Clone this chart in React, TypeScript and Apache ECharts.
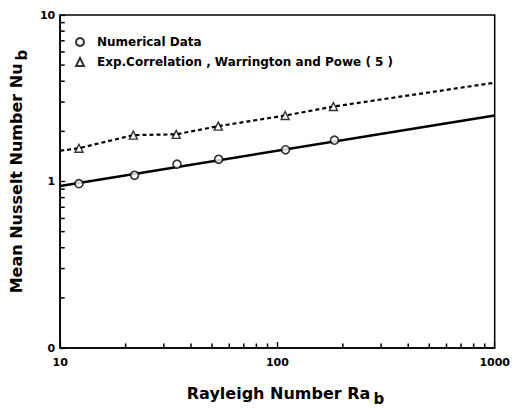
import React, { useEffect, useRef } from "react";
import * as echarts from "echarts";

// Numerical data (circles)
const raNum = [12.2, 22, 34.5, 53.6, 109, 183];
const nuNum = [0.97, 1.09, 1.27, 1.36, 1.55, 1.77];
// Experimental correlation, Warrington and Powe (triangles)
const raExp = [12.2, 21.7, 34.2, 53.4, 108.5, 181];
const nuExp = [1.585, 1.9, 1.92, 2.15, 2.49, 2.82];
// Line end points
const numLineStart = [10, 0.94];
const numLineEnd = [1000, 2.49];
const expLineStart = [10, 1.53];
const expLineEnd = [1000, 3.92];
// Minor tick values
const xMinorTicks = [20, 30, 40, 50, 60, 70, 80, 90, 200, 300, 400, 500, 600, 700, 800, 900];
const yMinorTicks = [0.2, 0.3, 0.4, 0.5, 0.6, 0.7, 0.8, 0.9, 2, 3, 4, 5, 6, 7, 8, 9];
const yTickLabels: Record<string, string> = { "0.1": "0", "1": "1", "10": "10" };
const xTickLabels: Record<string, string> = { "10": "10", "100": "100", "1000": "1000" };
const X_MIN = 10;
const Y_MIN = 0.1;

const FONT = "DejaVu Sans";

export default function App() {
  const ref = useRef<HTMLDivElement>(null);
  useEffect(() => {
    const chart = echarts.init(ref.current!, null, { renderer: "svg" });
    const numPts = raNum.map((r, i) => [r, nuNum[i]]);
    const expPts = raExp.map((r, i) => [r, nuExp[i]]);
    chart.setOption({
      animation: false,
      backgroundColor: "#fff",
      grid: {
        left: 52,
        right: 11,
        top: 15,
        bottom: 57,
        containLabel: false,
        show: true,
        borderColor: "#000",
        borderWidth: 1.5,
      },
      legend: {
        data: ["Numerical Data", "Exp.Correlation , Warrington and Powe ( 5 )"],
        orient: "vertical",
        left: 75,
        top: 35,
        padding: 0,
        itemWidth: 8,
        itemHeight: 8,
        itemGap: 6,
        textStyle: {
          fontFamily: FONT,
          fontWeight: "bold",
          fontSize: 12,
          lineHeight: 14,
          color: "#000",
          padding: [0, 0, 0, 8],
        },
      },
      xAxis: {
        type: "log",
        logBase: 10,
        min: X_MIN,
        max: 1000,
        name: "{n|Rayleigh Number Ra}{s|b}",
        nameLocation: "middle",
        nameGap: 37,
        nameTextStyle: {
          padding: [0, 0, 0, 16],
          rich: {
            n: { fontFamily: FONT, fontWeight: "bold", fontSize: 16, color: "#000", verticalAlign: "bottom", padding: [0, 3, 5, 0] },
            s: { fontFamily: FONT, fontWeight: "bold", fontSize: 15, color: "#000", verticalAlign: "bottom" },
          },
        },
        axisLine: { lineStyle: { color: "#000", width: 1.6 } },
        axisTick: { inside: true, length: 6, lineStyle: { color: "#000", width: 1.3 } },
        axisLabel: {
          fontFamily: FONT,
          fontWeight: "bold",
          fontSize: 11,
          color: "#000",
          margin: 9,
          formatter: (v: number) => xTickLabels[String(v)] ?? String(v),
        },
        splitLine: { show: false },
      },
      yAxis: {
        type: "log",
        logBase: 10,
        min: Y_MIN,
        max: 10,
        name: "{n|Mean Nusselt Number Nu}{s|b}",
        nameLocation: "middle",
        nameGap: 26,
        nameTextStyle: {
          padding: [0, 0, 0, 20],
          rich: {
            n: { fontFamily: FONT, fontWeight: "bold", fontSize: 16, color: "#000", verticalAlign: "bottom", padding: [0, 3, 5, 0] },
            s: { fontFamily: FONT, fontWeight: "bold", fontSize: 15, color: "#000", verticalAlign: "bottom" },
          },
        },
        axisLine: { lineStyle: { color: "#000", width: 1.6 } },
        axisTick: { inside: true, length: 5, lineStyle: { color: "#000", width: 1.3 } },
        axisLabel: {
          fontFamily: FONT,
          fontWeight: "bold",
          fontSize: 11,
          color: "#000",
          margin: 5,
          formatter: (v: number) => yTickLabels[String(v)] ?? String(v),
        },
        splitLine: { show: false },
      },
      series: [
        {
          name: "numLine",
          type: "line",
          data: [numLineStart, numLineEnd],
          showSymbol: false,
          symbol: "none",
          lineStyle: { color: "#000", width: 2.6 },
          silent: true,
          z: 2,
        },
        {
          name: "expLine",
          type: "line",
          data: [expLineStart, ...expPts, expLineEnd],
          showSymbol: false,
          symbol: "none",
          lineStyle: { color: "#000", width: 2.2, type: [4, 3] },
          silent: true,
          z: 2,
        },
        {
          name: "Numerical Data",
          type: "scatter",
          data: numPts,
          symbol: "circle",
          symbolSize: 8,
          itemStyle: { color: "#fff", borderColor: "#000", borderWidth: 1.6 },
          z: 3,
        },
        {
          name: "Exp.Correlation , Warrington and Powe ( 5 )",
          type: "scatter",
          data: expPts,
          symbol: "triangle",
          symbolSize: 8,
          itemStyle: { color: "#fff", borderColor: "#000", borderWidth: 1.4 },
          z: 3,
        },
      ],
    });

    // Logarithmic minor ticks, positioned through the chart's own scales
    const tickEls: any[] = [];
    xMinorTicks.forEach((v) => {
      const p = chart.convertToPixel({ gridIndex: 0 }, [v, Y_MIN]) as number[];
      tickEls.push({
        type: "line",
        silent: true,
        z: 10,
        shape: { x1: p[0], y1: p[1], x2: p[0], y2: p[1] - 4.5 },
        style: { stroke: "#000", lineWidth: 1.5 },
      });
    });
    yMinorTicks.forEach((v) => {
      const p = chart.convertToPixel({ gridIndex: 0 }, [X_MIN, v]) as number[];
      tickEls.push({
        type: "line",
        silent: true,
        z: 10,
        shape: { x1: p[0], y1: p[1], x2: p[0] + 4.5, y2: p[1] },
        style: { stroke: "#000", lineWidth: 1.5 },
      });
    });
    chart.setOption({ graphic: tickEls });

    return () => chart.dispose();
  }, []);
  return (
    <div
      ref={ref}
      style={{ position: "fixed", left: 0, top: 0, width: 513, height: 411, background: "#fff" }}
    />
  );
}
